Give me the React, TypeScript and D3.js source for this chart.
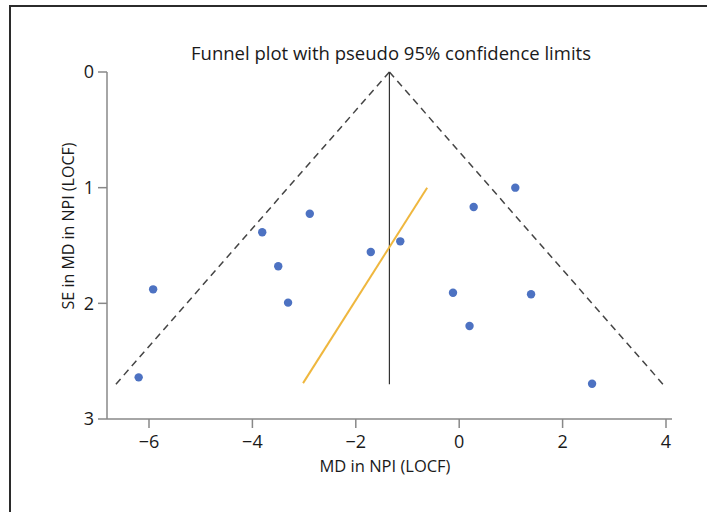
import React from "react";
import * as d3 from "d3";

// Study estimates (mean difference, standard error)
const studyMD: number[] = [-5.92, -6.2, -3.81, -2.89, -3.5, -3.31, -1.71, -1.14, 1.085, 0.28, -0.12, 1.39, 0.2, 2.57];
const studySE: number[] = [1.879, 2.64, 1.386, 1.225, 1.68, 1.994, 1.556, 1.464, 1.0, 1.167, 1.908, 1.922, 2.196, 2.695];

// Pooled estimate and funnel extent
const pooledMD = -1.35;
const maxSE = 2.7;
const z95 = 1.96;

// Regression (Egger) line end points
const eggerMD: number[] = [-3.02, -0.62];
const eggerSE: number[] = [2.69, 1.0];

const xTicks: number[] = [-6, -4, -2, 0, 2, 4];
const yTicks: number[] = [0, 1, 2, 3];

const title = "Funnel plot with pseudo 95% confidence limits";
const xLabel = "MD in NPI (LOCF)";
const yLabel = "SE in MD in NPI (LOCF)";

const W = 707;
const H = 512;
const FONT = "'Open Sans', sans-serif";

export default function App() {
  const x = d3.scaleLinear().domain([-6, 4]).range([149, 666]);
  const y = d3.scaleLinear().domain([0, 3]).range([72, 419]);
  const axisX = 107;
  const axisY = y(3);
  const xEnd = 672;

  const funnel = d3
    .line<[number, number]>()
    .x((d) => x(d[0]))
    .y((d) => y(d[1]));

  const leftLeg: [number, number][] = [
    [pooledMD, 0],
    [pooledMD - z95 * maxSE, maxSE],
  ];
  const rightLeg: [number, number][] = [
    [pooledMD, 0],
    [pooledMD + z95 * maxSE, maxSE],
  ];
  const egger: [number, number][] = eggerMD.map((m, i) => [m, eggerSE[i]]);

  return (
    <svg
      width={W}
      height={H}
      style={{ position: "absolute", left: 0, top: 0, background: "#fff" }}
      fontFamily={FONT}
    >
      <rect x={0} y={0} width={W} height={H} fill="#fff" />
      <rect x={10} y={6} width={W + 20} height={H + 20} fill="none" stroke="#2b2b2b" strokeWidth={2} />

      <text x={391} y={60} textAnchor="middle" fontSize={18.5} fill="#1a1a1a">
        {title}
      </text>

      {/* axes */}
      <line x1={axisX} x2={axisX} y1={y(0)} y2={axisY} stroke="#888" strokeWidth={1.5} />
      <line x1={axisX} x2={xEnd} y1={axisY} y2={axisY} stroke="#888" strokeWidth={1.5} />
      {yTicks.map((t) => (
        <g key={"y" + t}>
          <line x1={axisX - 9} x2={axisX} y1={y(t)} y2={y(t)} stroke="#888" strokeWidth={1.5} />
          <text x={axisX - 13} y={y(t)} dy="0.35em" textAnchor="end" fontSize={18} fill="#1a1a1a">
            {t}
          </text>
        </g>
      ))}
      {xTicks.map((t) => (
        <g key={"x" + t}>
          <line x1={x(t)} x2={x(t)} y1={axisY} y2={axisY + 9} stroke="#888" strokeWidth={1.5} />
          <text x={x(t)} y={axisY + 29} textAnchor="middle" fontSize={18} fill="#1a1a1a">
            {t < 0 ? "\u2212" + Math.abs(t) : String(t)}
          </text>
        </g>
      ))}
      <text x={385} y={472} textAnchor="middle" fontSize={16.5} fill="#1a1a1a">
        {xLabel}
      </text>
      <text
        transform={`translate(74, 226) rotate(-90)`}
        textAnchor="middle"
        fontSize={16}
        fill="#1a1a1a"
      >
        {yLabel}
      </text>

      {/* funnel */}
      <path d={funnel(leftLeg) || ""} fill="none" stroke="#444" strokeWidth={1.5} strokeDasharray="7,5" />
      <path d={funnel(rightLeg) || ""} fill="none" stroke="#444" strokeWidth={1.5} strokeDasharray="7,5" />
      <line x1={x(pooledMD)} x2={x(pooledMD)} y1={y(0)} y2={y(maxSE)} stroke="#333" strokeWidth={1.2} />

      {/* regression line */}
      <path d={funnel(egger) || ""} fill="none" stroke="#efb73e" strokeWidth={2} />

      {/* studies */}
      {studyMD.map((m, i) => (
        <circle key={i} cx={x(m)} cy={y(studySE[i])} r={4.2} fill="#4d72c2" />
      ))}
    </svg>
  );
}
